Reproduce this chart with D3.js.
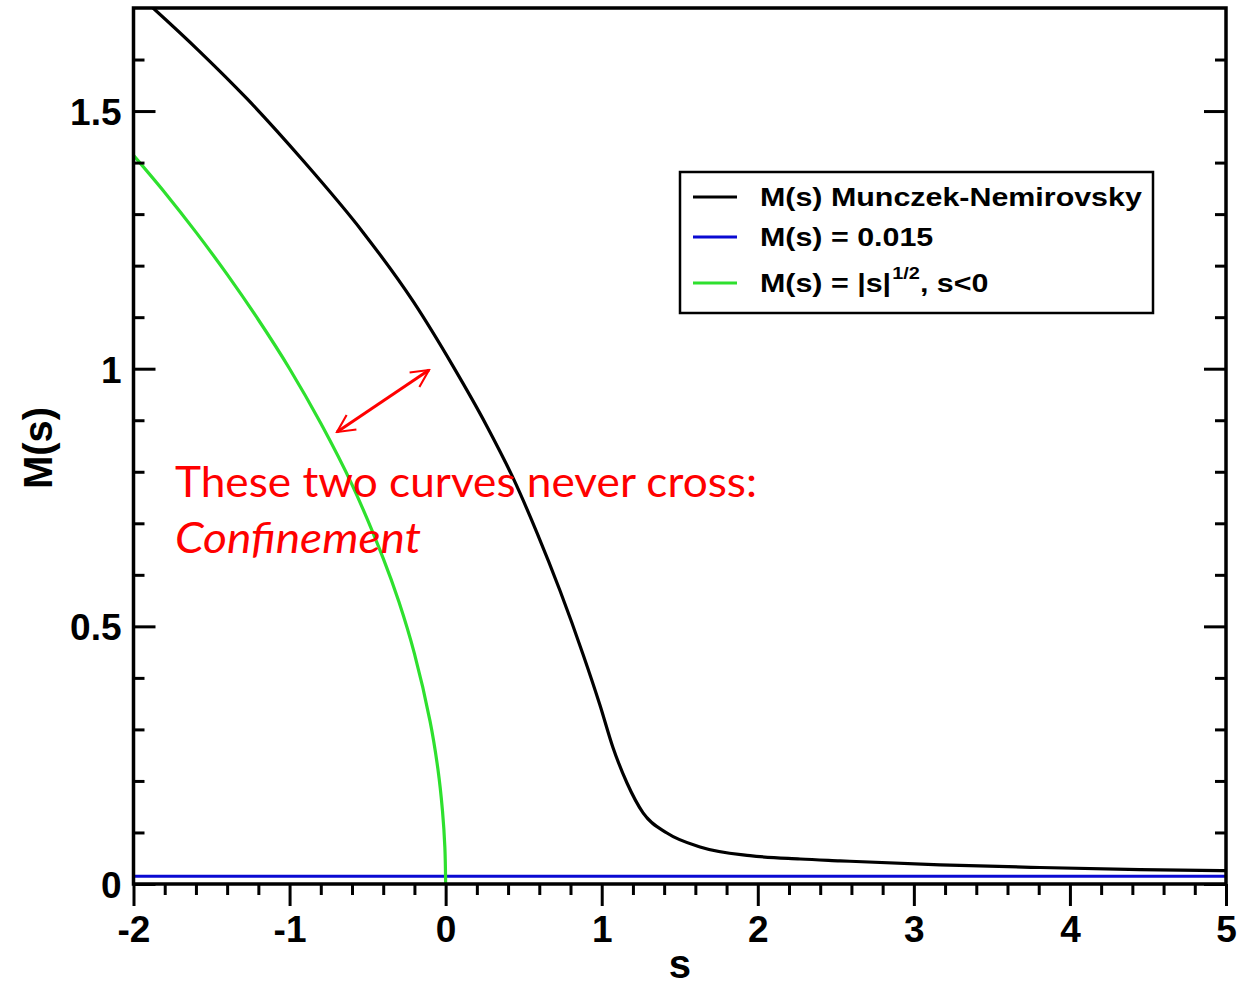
<!DOCTYPE html>
<html>
<head>
<meta charset="utf-8">
<script src="https://cdn.jsdelivr.net/npm/d3@7"></script>
<style>
  body { margin: 0; background: #fff; }
  svg { display: block; }
</style>
</head>
<body>
<script>
// values
var mnS = [-2, -1.875, -1.574, -1.273, -0.914, -0.53, -0.209, 0.047, 0.265, 0.432, 0.586, 0.733, 0.88, 0.989, 1.072, 1.162, 1.265, 1.418, 1.63, 1.95, 2.271, 2.527, 3.168, 3.808, 4.449, 5];
var mnM = [1.734, 1.7, 1.615, 1.524, 1.404, 1.265, 1.131, 1.005, 0.888, 0.788, 0.681, 0.569, 0.446, 0.347, 0.265, 0.196, 0.138, 0.099, 0.072, 0.055, 0.0485, 0.045, 0.037, 0.032, 0.028, 0.026];

var sqS = [-2, -1.8, -1.6, -1.4, -1.2, -1, -0.8, -0.6, -0.4, -0.3, -0.2, -0.1, -0.05, -0.02, -0.005, 0];
var sqM = [1.414, 1.342, 1.265, 1.183, 1.095, 1.0, 0.894, 0.775, 0.632, 0.548, 0.447, 0.316, 0.224, 0.141, 0.071, 0];

var constS = [-2, 5];
var constM = [0.015, 0.015];

var xMajor = [-2, -1, 0, 1, 2, 3, 4, 5];
var xLabels = ["-2", "-1", "0", "1", "2", "3", "4", "5"];
var yMajor = [0, 0.5, 1, 1.5];
var yLabels = ["0", "0.5", "1", "1.5"];

var legendLabels = ["M(s) Munczek-Nemirovsky", "M(s) = 0.015", "M(s) = |s|"];
var colors = ["#000000", "#0a0ad2", "#2ee02e"];

var W = 1238, H = 982;
var pLeft = 133.5, pRight = 1226, pTop = 8, pBottom = 884;

var svg = d3.select("body").append("svg")
  .attr("width", W)
  .attr("height", H);

var x = d3.scaleLinear().domain([-2, 5]).range([pLeft, pRight]);
var y = d3.scaleLinear().domain([0, 1.7]).range([pBottom, pTop]);

var xMinor = d3.range(-2, 5.001, 0.2).filter(function(v){ return Math.abs(v - Math.round(v)) > 1e-6; });
var yMinor = d3.range(0.1, 1.65, 0.1).filter(function(v){ return Math.abs(v*2 - Math.round(v*2)) > 1e-6; });

svg.append("clipPath").attr("id", "clip")
  .append("rect").attr("x", pLeft).attr("y", pTop)
  .attr("width", pRight - pLeft).attr("height", pBottom - pTop);

// curves
var lineM = d3.line()
  .x(function(d){ return x(d[0]); })
  .y(function(d){ return y(d[1]); })
  .curve(d3.curveMonotoneX);

var lineC = d3.line()
  .x(function(d){ return x(d[0]); })
  .y(function(d){ return y(d[1]); })
  .curve(d3.curveCatmullRom.alpha(0.5));

var series = [
  { pts: d3.zip(constS, constM), color: colors[1], gen: lineM },
  { pts: d3.zip(sqS, sqM), color: colors[2], gen: lineC },
  { pts: d3.zip(mnS, mnM), color: colors[0], gen: lineM }
];

svg.append("g").attr("clip-path", "url(#clip)")
  .selectAll("path")
  .data(series)
  .enter().append("path")
  .attr("d", function(d){ return d.gen(d.pts); })
  .attr("fill", "none")
  .attr("stroke", function(d){ return d.color; })
  .attr("stroke-width", 3.2);

// axes
function styleTicks(g) {
  g.select(".domain").remove();
  g.selectAll("line").attr("stroke", "#000").attr("stroke-width", 3);
}

// left: ticks inward
svg.append("g").attr("transform", "translate(" + pLeft + ",0)")
  .call(d3.axisRight(y).tickValues(yMajor).tickSize(22).tickFormat(""))
  .call(styleTicks);
svg.append("g").attr("transform", "translate(" + pLeft + ",0)")
  .call(d3.axisRight(y).tickValues(yMinor).tickSize(11).tickFormat(""))
  .call(styleTicks);
svg.append("g").attr("transform", "translate(" + pLeft + ",0)")
  .call(d3.axisLeft(y).tickValues(yMajor).tickSize(0).tickPadding(12)
    .tickFormat(function(d, i){ return yLabels[i]; }))
  .call(function(g){
    g.select(".domain").remove();
    g.selectAll("text").attr("font-family", "Liberation Sans, Arial, sans-serif")
      .attr("font-weight", "bold").attr("font-size", 37).attr("fill", "#000")
      .attr("dy", "0.36em");
  });

// right: ticks inward
svg.append("g").attr("transform", "translate(" + pRight + ",0)")
  .call(d3.axisLeft(y).tickValues(yMajor).tickSize(22).tickFormat(""))
  .call(styleTicks);
svg.append("g").attr("transform", "translate(" + pRight + ",0)")
  .call(d3.axisLeft(y).tickValues(yMinor).tickSize(11).tickFormat(""))
  .call(styleTicks);

// bottom: ticks outward
svg.append("g").attr("transform", "translate(0," + pBottom + ")")
  .call(d3.axisBottom(x).tickValues(xMinor).tickSize(11).tickFormat(""))
  .call(styleTicks);
svg.append("g").attr("transform", "translate(0," + pBottom + ")")
  .call(d3.axisBottom(x).tickValues(xMajor).tickSize(22).tickPadding(10)
    .tickFormat(function(d, i){ return xLabels[i]; }))
  .call(styleTicks)
  .call(function(g){
    g.selectAll("text").attr("font-family", "Liberation Sans, Arial, sans-serif")
      .attr("font-weight", "bold").attr("font-size", 37).attr("fill", "#000");
  });

// frame
svg.append("rect")
  .attr("x", pLeft).attr("y", pTop)
  .attr("width", pRight - pLeft).attr("height", pBottom - pTop)
  .attr("fill", "none").attr("stroke", "#000").attr("stroke-width", 3.5);

// axis titles
svg.append("text")
  .attr("transform", "translate(52," + (y(0.85) + 2) + ") rotate(-90)")
  .attr("text-anchor", "middle")
  .attr("font-family", "Liberation Sans, Arial, sans-serif")
  .attr("font-weight", "bold").attr("font-size", 40)
  .text("M(s)");

svg.append("text")
  .attr("x", x(1.5)).attr("y", 978)
  .attr("text-anchor", "middle")
  .attr("font-family", "Liberation Sans, Arial, sans-serif")
  .attr("font-weight", "bold").attr("font-size", 40)
  .text("s");

// legend
var legend = svg.append("g");
legend.append("rect")
  .attr("x", 680).attr("y", 172).attr("width", 473).attr("height", 141)
  .attr("fill", "#fff").attr("stroke", "#000").attr("stroke-width", 2.5);

var rowY = [197, 237, 283];
legend.selectAll("line.key")
  .data(colors)
  .enter().append("line")
  .attr("class", "key")
  .attr("x1", 693).attr("x2", 737)
  .attr("y1", function(d, i){ return rowY[i]; })
  .attr("y2", function(d, i){ return rowY[i]; })
  .attr("stroke", function(d){ return d; })
  .attr("stroke-width", 3.2);

var labels = legend.selectAll("text.lab")
  .data(legendLabels)
  .enter().append("text")
  .attr("class", "lab")
  .attr("transform", function(d, i){ return "translate(760," + (rowY[i] + 9) + ") scale(1.17,1)"; })
  .attr("font-family", "Liberation Sans, Arial, sans-serif")
  .attr("font-weight", "bold").attr("font-size", 26)
  .text(function(d){ return d; });

var lab3 = d3.select(labels.nodes()[2]);
lab3.append("tspan").attr("font-size", 17).attr("dx", 1).attr("dy", -13).text("1/2");
lab3.append("tspan").attr("dy", 13).text(", s<0");

// annotation
var ann = svg.append("g");
var defs = svg.append("defs");
defs.append("marker").attr("id", "head")
  .attr("viewBox", "0 0 12 12").attr("refX", 11).attr("refY", 6)
  .attr("markerWidth", 7).attr("markerHeight", 7)
  .attr("markerUnits", "strokeWidth")
  .attr("orient", "auto-start-reverse")
  .append("path").attr("d", "M1,1 L11,6 L1,11")
  .attr("fill", "none").attr("stroke", "#ff0000").attr("stroke-width", 1.2);

ann.append("line")
  .attr("x1", 337).attr("y1", 432).attr("x2", 429).attr("y2", 370)
  .attr("stroke", "#ff0000").attr("stroke-width", 3)
  .attr("marker-start", "url(#head)").attr("marker-end", "url(#head)");

ann.append("text")
  .attr("x", 175).attr("y", 497)
  .attr("font-family", "Lato, Open Sans, sans-serif")
  .attr("font-size", 43).attr("fill", "#ff0000")
  .attr("textLength", 582).attr("lengthAdjust", "spacingAndGlyphs")
  .text("These two curves never cross:");

ann.append("text")
  .attr("x", 175).attr("y", 553)
  .attr("font-family", "Lato, Open Sans, sans-serif")
  .attr("font-style", "italic")
  .attr("font-size", 43).attr("fill", "#ff0000")
  .attr("textLength", 246).attr("lengthAdjust", "spacingAndGlyphs")
  .text("Confinement");
</script>
</body>
</html>
